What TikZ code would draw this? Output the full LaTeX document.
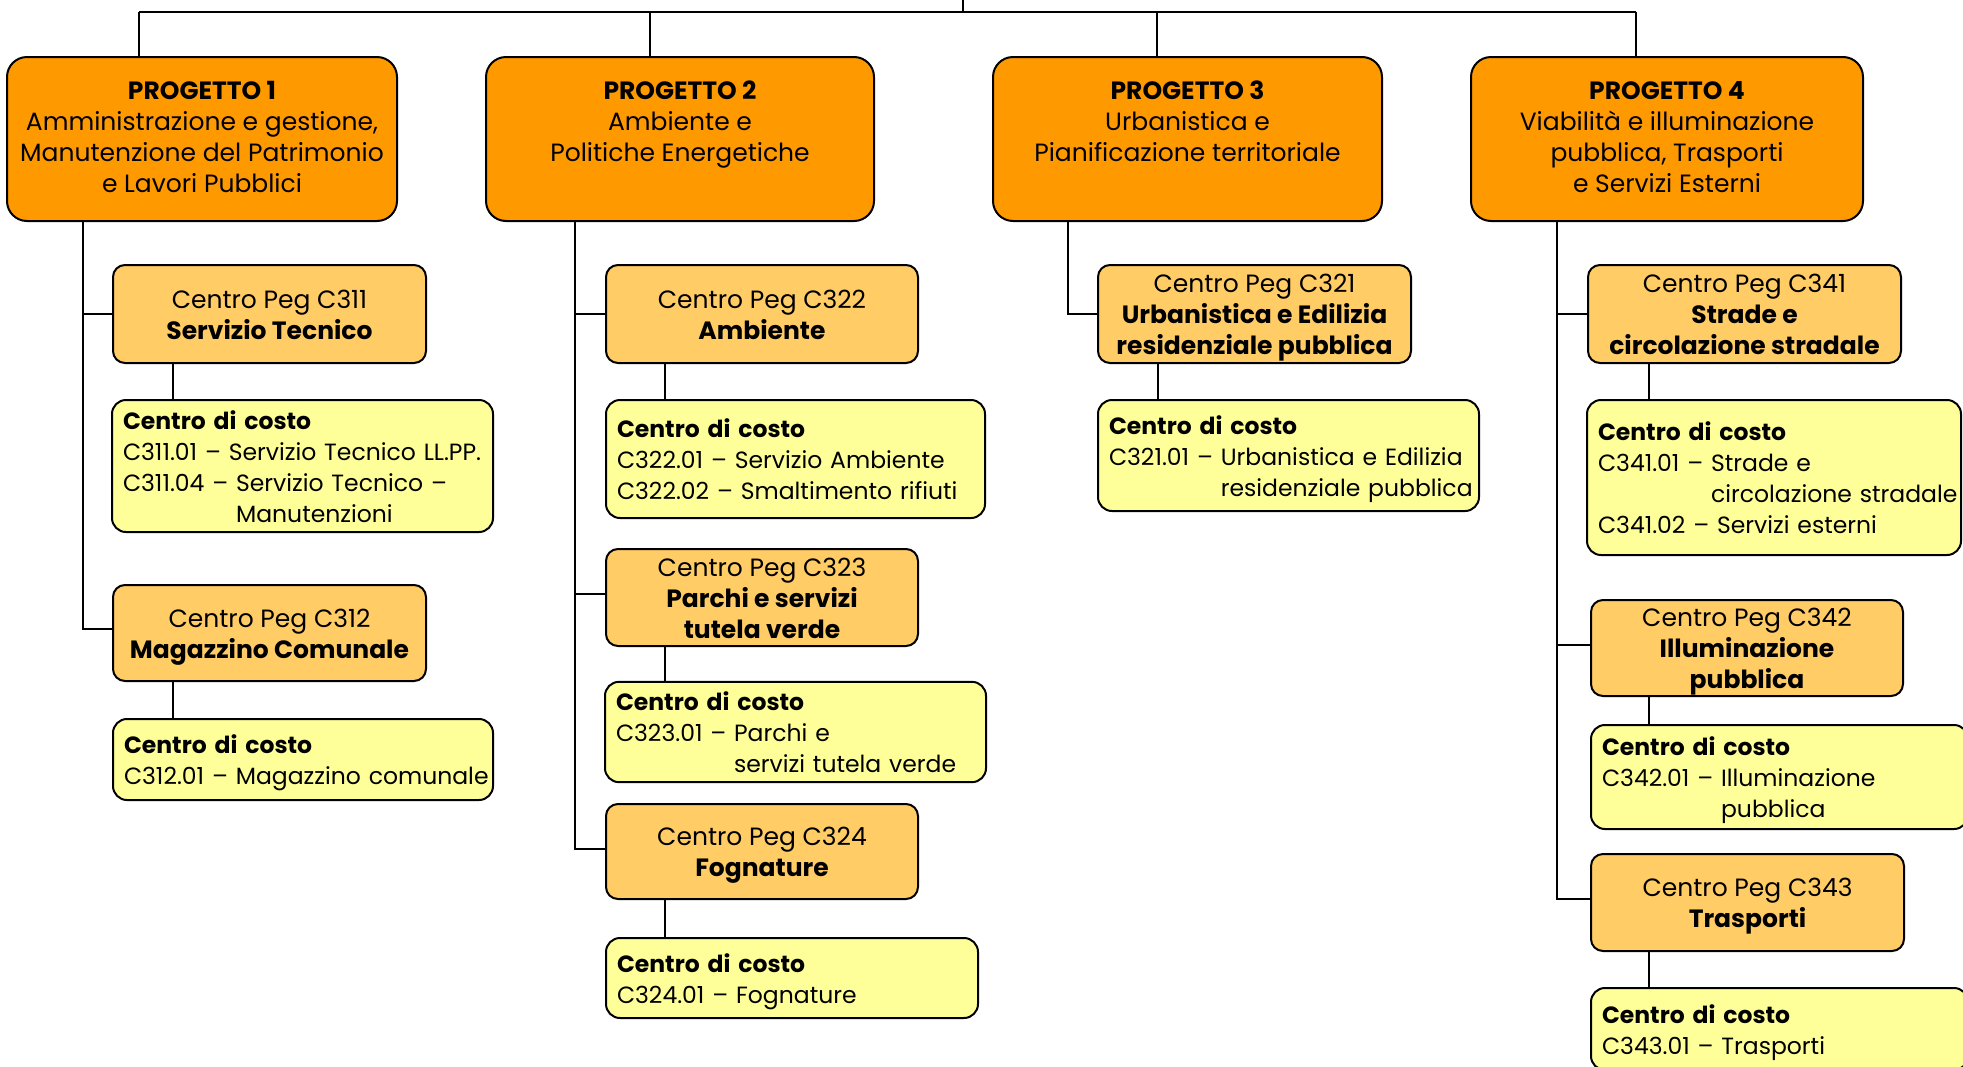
\documentclass[tikz,border=0pt]{standalone}
\usepackage{fontspec}
\setmainfont{Poppins}
\definecolor{projcol}{RGB}{255,153,0}
\definecolor{pegcol}{RGB}{255,204,102}
\definecolor{costcol}{RGB}{255,255,153}
\newcommand\myfs{\fontsize{25}{31}\selectfont}
\newcommand\costfs{\fontsize{23.5}{31}\selectfont}
\newcommand\tp{\rule{0pt}{26pt}}
\newcommand\bt{\rule[-7pt]{0pt}{7pt}}
\newcommand\firstrow{\rule{0pt}{29pt}}
\begin{document}
\begin{tikzpicture}[x=1pt,y=-1pt,
  conn/.style={line width=2pt,black},
  proj/.style={draw,line width=2pt,fill=projcol,rounded corners=20pt,inner sep=0pt},
  projtext/.style={anchor=north,inner sep=0pt,align=center,font=\myfs},
  peg/.style={draw,line width=2pt,fill=pegcol,rounded corners=12pt,inner sep=0pt,align=center,font=\myfs},
  cost/.style={draw,line width=2pt,fill=costcol,rounded corners=14pt,inner xsep=11pt,inner ysep=0pt,align=left,font=\costfs},
  wh/.style 2 args={minimum width=#1pt,minimum height=#2pt},
  ctw/.style 2 args={text width=#1pt,minimum height=#2pt}
]
\useasboundingbox (0,0) rectangle (1963,1066);
\clip (0,0) rectangle (1963,1066);

% project boxes
\node[proj,wh={390}{164}] (p1) at (202,139) {};
\node[proj,wh={388}{164}] (p2) at (680,139) {};
\node[proj,wh={389}{164}] (p3) at (1187.5,139) {};
\node[proj,wh={392}{164}] (p4) at (1667,139) {};
\node[projtext] (p1t) at ([yshift=-25pt]p1.north) {\textbf{PROGETTO 1}\\Amministrazione e gestione,\\Manutenzione del Patrimonio\\e Lavori Pubblici};
\node[projtext] (p2t) at ([yshift=-25pt]p2.north) {\textbf{PROGETTO 2}\\Ambiente e\\Politiche Energetiche};
\node[projtext] (p3t) at ([yshift=-25pt]p3.north) {\textbf{PROGETTO 3}\\Urbanistica e\\Pianificazione territoriale};
\node[projtext] (p4t) at ([yshift=-25pt]p4.north) {\textbf{PROGETTO 4}\\Viabilità e illuminazione\\pubblica, Trasporti\\e Servizi Esterni};

% peg boxes
\node[peg,wh={313}{98}] (c311) at (269.5,314) {\tp Centro Peg C311\\\textbf{Servizio Tecnico}\bt};
\node[peg,wh={313}{96}] (c312) at (269.5,633) {\tp Centro Peg C312\\\textbf{Magazzino Comunale}\bt};
\node[peg,wh={312}{98}] (c322) at (762,314) {\tp Centro Peg C322\\\textbf{Ambiente}\bt};
\node[peg,wh={312}{97}] (c323) at (762,597.5) {\tp Centro Peg C323\\\textbf{Parchi e servizi}\\\textbf{tutela verde}\bt};
\node[peg,wh={312}{95}] (c324) at (762,851.5) {\tp Centro Peg C324\\\textbf{Fognature}\bt};
\node[peg,wh={313}{98}] (c321) at (1254.5,314) {\tp Centro Peg C321\\\textbf{Urbanistica e Edilizia}\\\textbf{residenziale pubblica}\bt};
\node[peg,wh={313}{98}] (c341) at (1744.5,314) {\tp Centro Peg C341\\\textbf{Strade e}\\\textbf{circolazione stradale}\bt};
\node[peg,wh={312}{96}] (c342) at (1747,648) {\tp Centro Peg C342\\\textbf{Illuminazione}\\\textbf{pubblica}\bt};
\node[peg,wh={313}{97}] (c343) at (1747.5,902.5) {\tp Centro Peg C343\\\textbf{Trasporti}\bt};

% cost boxes
\node[cost,ctw={359}{132}] (k311) at (302.5,466) {\begin{tabular}{@{}l@{}}\firstrow\textbf{Centro di costo}\\C311.01 – Servizio Tecnico LL.PP.\\C311.04 – Servizio Tecnico –\\\phantom{C311.04 – }Manutenzioni\end{tabular}};
\node[cost,ctw={358}{81}] (k312) at (303,759.5) {\begin{tabular}{@{}l@{}}\firstrow\textbf{Centro di costo}\\C312.01 – Magazzino comunale\end{tabular}};
\node[cost,ctw={357}{118}] (k322) at (795.5,459) {\begin{tabular}{@{}l@{}}\firstrow\textbf{Centro di costo}\\C322.01 – Servizio Ambiente\\C322.02 – Smaltimento rifiuti\end{tabular}};
\node[cost,ctw={359}{96}] (k323) at (795.5,732) {\begin{tabular}{@{}l@{}}\firstrow\textbf{Centro di costo}\\C323.01 – Parchi e\\\phantom{C323.01 – }servizi tutela verde\end{tabular}};
\node[cost,ctw={350}{80}] (k324) at (792,978) {\begin{tabular}{@{}l@{}}\firstrow\textbf{Centro di costo}\\C324.01 – Fognature\end{tabular}};
\node[cost,ctw={359}{111}] (k321) at (1288.5,455.5) {\begin{tabular}{@{}l@{}}\firstrow\textbf{Centro di costo}\\C321.01 – Urbanistica e Edilizia\\\phantom{C321.01 – }residenziale pubblica\end{tabular}};
\node[cost,ctw={352}{155}] (k341) at (1774,477.5) {\begin{tabular}{@{}l@{}}\firstrow\textbf{Centro di costo}\\C341.01 – Strade e\\\phantom{C341.01 – }circolazione stradale\\C341.02 – Servizi esterni\end{tabular}};
\node[cost,ctw={355}{104}] (k342) at (1779.5,777) {\begin{tabular}{@{}l@{}}\firstrow\textbf{Centro di costo}\\C342.01 – Illuminazione\\\phantom{C342.01 – }pubblica\end{tabular}};
\node[cost,ctw={355}{82}] (k343) at (1779.5,1029) {\begin{tabular}{@{}l@{}}\firstrow\textbf{Centro di costo}\\C343.01 – Trasporti\end{tabular}};

% top bar
\coordinate (top) at (963,0);
\coordinate (bar) at (963,12);
\coordinate (b1) at (139,12);
\coordinate (b2) at (650,12);
\coordinate (b3) at (1157,12);
\coordinate (b4) at (1636,12);
\draw[conn] (top) -- (bar);
\draw[conn] (b1) -- (b4);
\draw[conn] (b1) -- (b1 |- p1.north);
\draw[conn] (b2) -- (b2 |- p2.north);
\draw[conn] (b3) -- (b3 |- p3.north);
\draw[conn] (b4) -- (b4 |- p4.north);

% trunks
\coordinate (t1) at (83,0);
\coordinate (t2) at (575,0);
\coordinate (t3) at (1068,0);
\coordinate (t4) at (1557,0);
\draw[conn] (t1 |- p1.south) |- ([yshift=4pt]c312.west);
\draw[conn] (t1 |- c311.west) -- (c311.west);
\draw[conn] (t2 |- p2.south) |- ([yshift=3pt]c324.west);
\draw[conn] (t2 |- c322.west) -- (c322.west);
\draw[conn] (t2 |- c323.west) ++(0,-4) -- ([yshift=4pt]c323.west);
\draw[conn] (t3 |- p3.south) |- (c321.west);
\draw[conn] (t4 |- p4.south) |- ([yshift=4pt]c343.west);
\draw[conn] (t4 |- c341.west) -- (c341.west);
\draw[conn] (t4 |- c342.west) ++(0,-3) -- ([yshift=3pt]c342.west);

% peg to cost
\coordinate (v1) at (173,0);
\coordinate (v2) at (665,0);
\coordinate (v3) at (1158,0);
\coordinate (v4) at (1649,0);
\draw[conn] (v1 |- c311.south) -- (v1 |- k311.north);
\draw[conn] (v1 |- c312.south) -- (v1 |- k312.north);
\draw[conn] (v2 |- c322.south) -- (v2 |- k322.north);
\draw[conn] (v2 |- c323.south) -- (v2 |- k323.north);
\draw[conn] (v2 |- c324.south) -- (v2 |- k324.north);
\draw[conn] (v3 |- c321.south) -- (v3 |- k321.north);
\draw[conn] (v4 |- c341.south) -- (v4 |- k341.north);
\draw[conn] (v4 |- c342.south) -- (v4 |- k342.north);
\draw[conn] (v4 |- c343.south) -- (v4 |- k343.north);
\end{tikzpicture}
\end{document}
